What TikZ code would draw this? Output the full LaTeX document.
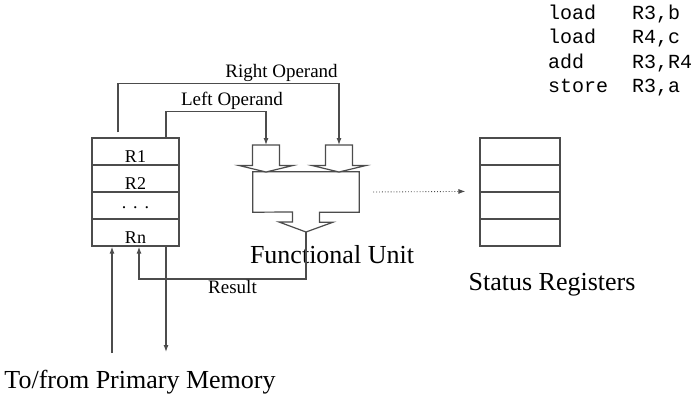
\documentclass[tikz,border=0pt]{standalone}
\usepackage{fontspec}
\setmainfont{Liberation Serif}
\setmonofont{Liberation Mono}
\usetikzlibrary{positioning, calc, arrows.meta}

\begin{document}
\begin{tikzpicture}[x=1pt, y=-1pt,
        reg/.style={rectangle, draw=black!70, line width=1.2pt, minimum width=87pt, minimum height=27pt, inner sep=0pt, text height=22pt, text depth=0pt, font=\fontsize{18}{20}\selectfont},
        status/.style={rectangle, draw=black!70, line width=1.2pt, minimum width=80pt, minimum height=27pt, inner sep=0pt},
        unit/.style={rectangle, minimum width=106pt, minimum height=40pt, inner sep=0pt},
        hollow/.style={draw=black!70, line width=1.2pt, fill=white, line join=miter},
        conn/.style={-{Latex[length=7pt,width=5pt]}, black!70, line width=1.2pt},
        dots/.style={-{Latex[length=7pt,width=5pt]}, black!70, line width=0.9pt, dotted},
        lbl/.style={font=\fontsize{19}{22}\selectfont, text=black, inner sep=1pt},
        big/.style={font=\fontsize{26}{30}\selectfont, inner sep=0pt}%
    ]
        \useasboundingbox (0,0) rectangle (700,400);

        % register file
        \node[reg] (r1) at (135.5,151.5) {R1};
        \node[reg] (r2) at (135.5,178.5) {R2};
        \node[reg] (rdots) at (135.5,205.5) {\raisebox{8pt}{.\hspace{7pt}.\hspace{7pt}.}};
        \node[reg] (rn) at (135.5,232.5) {Rn};

        % functional unit
        \node[unit] (fu) at (306,192) {};
        \node[big] (fulabel) at (332,255) {Functional Unit};
        \coordinate (inL) at (266,145);
        \coordinate (inR) at (339,145);
        \coordinate (fuout) at (306,232);
        \draw[hollow] (fu.south west) -- (fu.north west) -- (fu.north east) -- (fu.south east)
            -- ($(fu.south)+(13.5,0)$) -- ++(0,10) -- ++(13.5,0) -- (fuout) -- ++(-27,-10) -- ++(13.5,0) -- ++(0,-10) -- cycle;
        \draw[hollow] (266,172) -- ++(-27,-6.5) -- ++(13.5,0) -- ++(0,-20.5) -- ++(27,0) -- ++(0,20.5) -- ++(13.5,0) -- cycle;
        \draw[hollow] (339,172) -- ++(-27,-6.5) -- ++(13.5,0) -- ++(0,-20.5) -- ++(27,0) -- ++(0,20.5) -- ++(13.5,0) -- cycle;

        % status registers
        \node[status] (s1) at (520,151.5) {};
        \node[status] (s2) at (520,178.5) {};
        \node[status] (s3) at (520,205.5) {};
        \node[status] (s4) at (520,232.5) {};
        \node[big] (stlabel) at (552,285) {Status Registers};

        % program
        \node[anchor=north west, align=left, inner sep=0pt, font=\ttfamily\fontsize{20}{24.3}\selectfont] (prog) at (548,5)
            {\makebox[84pt][l]{load}R3,b\\\makebox[84pt][l]{load}R4,c\\\makebox[84pt][l]{add}R3,R4\\\makebox[84pt][l]{store}R3,a};

        % operands and result
        \draw[conn] ([shift={(-17.5,-5)}]r1.north) -- ++(0,-49) -| node[lbl, above, pos=0.37] {Right Operand} (inR);
        \draw[conn] ([xshift=30.5pt]r1.north) -- ++(0,-26) -| node[lbl, above, pos=0.33] {Left Operand} (inL);
        \draw[conn] (fuout) -- ++(0,47) -| node[lbl, below, pos=0.22] {Result} ([xshift=3.5pt]rn.south);
        \draw[dots] ([xshift=14pt]fu.east) -- ([xshift=-14pt]s3.north west);

        % memory
        \coordinate (memin) at (112,353);
        \coordinate (memout) at (166,352);
        \draw[conn] (memin) -- (memin |- rn.south);
        \draw[conn] (rn.south -| memout) -- (memout);
        \node[big] (memlabel) at (140,382) {To/from Primary Memory};
    \end{tikzpicture}
\end{document}
